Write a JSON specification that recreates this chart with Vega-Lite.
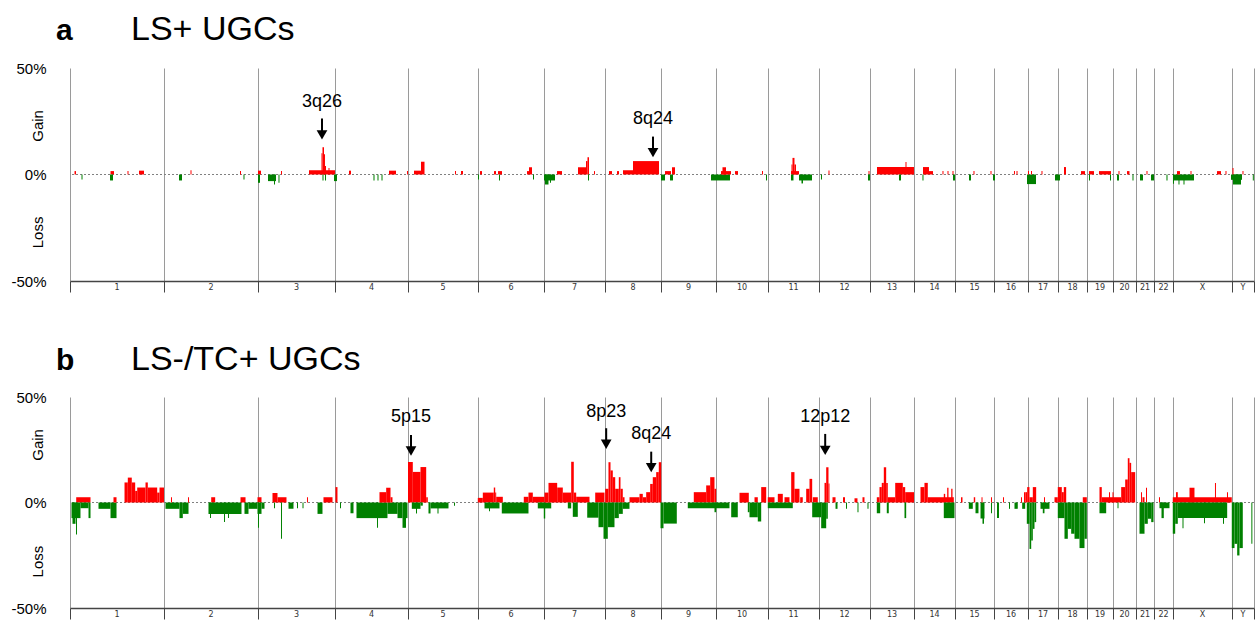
{
"$schema": "https://vega.github.io/schema/vega-lite/v6.json",
"background": "white",
"padding": {"left": 10, "top": 13, "right": 0, "bottom": 0},
"spacing": 50,
"config": {"view": {"stroke": null}, "font": "Liberation Sans"},
"datasets": {
"chr": [
{"n":"1","m":122.85},{"n":"2","m":368.55},{"n":"3","m":592.05},{"n":"4","m":788.1},{"n":"5","m":975},{"n":"6","m":1152.75},{"n":"7","m":1318.75},{"n":"8","m":1471.7},{"n":"9","m":1616.75},{"n":"10","m":1756.6},{"n":"11","m":1891.25},{"n":"12","m":2024.55},{"n":"13","m":2148.7},{"n":"14","m":2259.8},{"n":"15","m":2364.35},{"n":"16","m":2459.75},{"n":"17","m":2543.4},{"n":"18","m":2620.5},{"n":"19","m":2692.4},{"n":"20","m":2756.45},{"n":"21","m":2810.05},{"n":"22","m":2858.4},{"n":"X","m":2960.35},{"n":"Y","m":3066.25}
],
"a": [
{"s":11.8,"e":15.7,"v":1.6},{"s":30.1,"e":32.7,"v":-2.3},{"s":105.9,"e":115.0,"v":1.6},{"s":104.6,"e":112.4,"v":-2.8},{"s":150.3,"e":152.9,"v":1.6},{"s":180.4,"e":193.4,"v":1.8},
{"s":284.9,"e":292.8,"v":-2.8},{"s":315.0,"e":317.6,"v":2.0},{"s":444.4,"e":447.0,"v":1.6},{"s":453.5,"e":456.1,"v":-2.3},
{"s":491.4,"e":499.3,"v":1.8},{"s":491.4,"e":496.7,"v":-3.9},{"s":517.6,"e":538.5,"v":-3.1},{"s":533.3,"e":535.9,"v":-4.7},{"s":545.0,"e":547.6,"v":-3.9},{"s":551.6,"e":554.2,"v":1.6},
{"s":624.7,"e":692.7,"v":2.0},{"s":657.4,"e":660.0,"v":10.0},{"s":660.0,"e":664.0,"v":12.8},{"s":664.0,"e":666.6,"v":9.5},{"s":666.6,"e":669.2,"v":4.0},{"s":675.7,"e":678.3,"v":3.1},
{"s":660.0,"e":662.7,"v":-2.8},{"s":666.6,"e":669.2,"v":-2.8},{"s":690.1,"e":697.9,"v":-3.1},
{"s":729.3,"e":734.5,"v":1.8},{"s":793.3,"e":796.0,"v":-2.8},{"s":803.8,"e":806.4,"v":-2.8},{"s":814.3,"e":816.9,"v":-2.8},{"s":833.9,"e":852.2,"v":1.8},
{"s":880.9,"e":883.5,"v":1.6},{"s":899.2,"e":917.5,"v":1.8},{"s":917.5,"e":926.7,"v":6.0},{"s":1006.4,"e":1009.0,"v":1.6},{"s":1022.1,"e":1027.3,"v":1.6},
{"s":1066.5,"e":1069.1,"v":-2.3},{"s":1071.7,"e":1077.0,"v":1.6},{"s":1108.3,"e":1113.6,"v":1.6},{"s":1118.8,"e":1129.2,"v":1.6},{"s":1121.4,"e":1124.0,"v":-2.8},{"s":1194.6,"e":1199.8,"v":1.6},{"s":1199.8,"e":1207.7,"v":3.4},{"s":1210.3,"e":1212.9,"v":-2.3},
{"s":1239.0,"e":1267.8,"v":-2.8},{"s":1241.7,"e":1250.8,"v":-4.7},{"s":1254.7,"e":1257.3,"v":-3.9},{"s":1273.0,"e":1286.1,"v":1.6},{"s":1327.9,"e":1348.8,"v":3.4},{"s":1348.8,"e":1352.7,"v":6.3},{"s":1352.7,"e":1356.7,"v":8.1},{"s":1354.1,"e":1356.7,"v":-2.8},{"s":1369.7,"e":1372.4,"v":1.6},
{"s":1408.9,"e":1416.8,"v":1.6},{"s":1429.9,"e":1435.1,"v":1.6},{"s":1445.5,"e":1471.7,"v":2.0},{"s":1471.7,"e":1539.6,"v":6.3},
{"s":1544.9,"e":1555.3,"v":-2.8},{"s":1555.3,"e":1571.0,"v":1.6},{"s":1573.6,"e":1581.5,"v":3.4},{"s":1568.4,"e":1576.2,"v":-2.8},
{"s":1675.6,"e":1725.2,"v":-2.8},{"s":1701.7,"e":1727.9,"v":1.6},{"s":1705.6,"e":1714.8,"v":3.4},{"s":1738.3,"e":1746.2,"v":1.6},{"s":1808.9,"e":1811.5,"v":1.6},{"s":1819.3,"e":1822.0,"v":-2.8},
{"s":1884.7,"e":1905.6,"v":1.6},{"s":1886.0,"e":1888.6,"v":4.7},{"s":1888.6,"e":1893.8,"v":7.8},{"s":1893.8,"e":1897.8,"v":4.7},{"s":1884.7,"e":1891.2,"v":-2.8},{"s":1905.6,"e":1939.6,"v":-2.8},{"s":1912.1,"e":1916.1,"v":-4.2},
{"s":1963.1,"e":1965.7,"v":-2.3},{"s":1982.7,"e":1985.3,"v":1.9},{"s":2087.3,"e":2089.9,"v":1.6},{"s":2086.0,"e":2091.2,"v":-2.8},
{"s":2109.5,"e":2206.2,"v":3.5},{"s":2184.0,"e":2186.6,"v":5.9},{"s":2167.0,"e":2172.2,"v":-2.8},
{"s":2229.7,"e":2245.4,"v":3.5},{"s":2245.4,"e":2255.9,"v":1.6},{"s":2228.4,"e":2231.0,"v":-2.8},{"s":2280.7,"e":2283.3,"v":1.6},{"s":2293.8,"e":2296.4,"v":1.6},{"s":2306.9,"e":2309.5,"v":1.6},
{"s":2308.2,"e":2313.4,"v":-2.8},{"s":2350.0,"e":2355.2,"v":-2.8},{"s":2361.7,"e":2364.4,"v":1.6},{"s":2406.2,"e":2408.8,"v":1.6},
{"s":2412.7,"e":2417.9,"v":-2.8},{"s":2467.6,"e":2470.2,"v":1.6},{"s":2474.2,"e":2476.8,"v":1.6},
{"s":2501.6,"e":2525.1,"v":-4.5},{"s":2504.2,"e":2506.8,"v":1.6},{"s":2512.1,"e":2514.7,"v":1.6},{"s":2539.5,"e":2542.1,"v":1.6},
{"s":2574.8,"e":2587.9,"v":-2.8},{"s":2598.3,"e":2603.5,"v":3.5},{"s":2642.8,"e":2653.2,"v":1.6},
{"s":2663.7,"e":2676.7,"v":1.6},{"s":2663.7,"e":2666.3,"v":-2.8},{"s":2689.8,"e":2721.2,"v":1.6},{"s":2718.6,"e":2721.2,"v":-2.8},
{"s":2736.9,"e":2742.1,"v":-2.8},{"s":2740.8,"e":2743.4,"v":1.6},{"s":2763.0,"e":2769.5,"v":1.6},{"s":2777.4,"e":2780.0,"v":-2.8},
{"s":2797.0,"e":2804.8,"v":-2.8},{"s":2814.0,"e":2816.6,"v":1.6},{"s":2825.7,"e":2833.6,"v":-2.8},
{"s":2866.2,"e":2868.9,"v":-2.8},{"s":2883.2,"e":2938.1,"v":-2.8},{"s":2883.2,"e":2885.8,"v":-4.4},{"s":2897.6,"e":2900.2,"v":-4.7},{"s":2910.7,"e":2913.3,"v":-4.7},{"s":2893.7,"e":2901.5,"v":1.6},{"s":2929.0,"e":2931.6,"v":1.6},{"s":2998.3,"e":3008.7,"v":1.6},{"s":3020.5,"e":3023.1,"v":1.6},
{"s":3034.9,"e":3063.6,"v":-2.5},{"s":3040.1,"e":3061.0,"v":-4.7},{"s":3038.8,"e":3041.4,"v":3.1},{"s":3064.9,"e":3067.5,"v":1.6},{"s":3091.9,"e":3094.5,"v":-2.8}
],
"b": [
{"s":16.2,"e":53.6,"v":2.5},{"s":3.9,"e":27.4,"v":-7.4},{"s":6.5,"e":14.4,"v":-10.1},{"s":15.7,"e":18.3,"v":-15.2},{"s":27.4,"e":48.4,"v":-2.7},{"s":48.4,"e":53.6,"v":-7.4},{"s":74.5,"e":105.9,"v":-3.0},{"s":105.9,"e":121.6,"v":-7.4},{"s":113.7,"e":121.6,"v":2.5},
{"s":142.5,"e":151.1,"v":9.5},{"s":151.1,"e":161.5,"v":11.8},{"s":161.5,"e":170.4,"v":9.5},{"s":170.4,"e":175.7,"v":5.5},{"s":175.7,"e":197.4,"v":7.1},{"s":197.4,"e":203.4,"v":9.5},{"s":203.4,"e":227.9,"v":7.1},{"s":227.9,"e":234.0,"v":4.7},{"s":234.0,"e":245.7,"v":7.1},
{"s":249.6,"e":286.2,"v":-3.0},{"s":286.2,"e":294.9,"v":-7.4},{"s":294.9,"e":309.8,"v":-5.4},{"s":264.0,"e":266.6,"v":2.5},{"s":308.5,"e":311.1,"v":2.5},{"s":369.1,"e":379.5,"v":2.5},{"s":362.0,"e":448.3,"v":-5.4},{"s":366.0,"e":368.6,"v":-7.4},{"s":402.6,"e":405.2,"v":-9.3},{"s":413.0,"e":415.6,"v":-7.4},
{"s":445.7,"e":458.8,"v":2.5},{"s":490.1,"e":500.6,"v":2.5},{"s":456.1,"e":466.6,"v":-5.4},{"s":466.6,"e":490.1,"v":-3.0},{"s":490.1,"e":500.6,"v":-5.4},{"s":491.4,"e":494.0,"v":-12.0},
{"s":500.6,"e":508.4,"v":-3.0},{"s":529.3,"e":542.4,"v":4.5},{"s":542.4,"e":565.9,"v":2.5},{"s":533.3,"e":535.9,"v":-2.7},{"s":551.6,"e":554.2,"v":-17.2},{"s":571.2,"e":584.2,"v":-3.0},{"s":593.4,"e":596.0,"v":-2.7},{"s":607.8,"e":610.4,"v":-2.7},{"s":619.5,"e":622.1,"v":2.5},{"s":647.0,"e":660.0,"v":-5.4},{"s":662.6,"e":686.2,"v":2.5},{"s":694.0,"e":699.2,"v":7.3},{"s":705.8,"e":708.4,"v":-2.7},
{"s":733.2,"e":741.1,"v":-5.1},{"s":748.9,"e":829.9,"v":-7.4},{"s":802.5,"e":805.1,"v":-12.0},{"s":829.9,"e":856.1,"v":-5.4},{"s":856.1,"e":869.2,"v":-7.4},{"s":869.2,"e":878.3,"v":-12.0},{"s":878.3,"e":882.2,"v":-7.4},{"s":809.0,"e":826.5,"v":4.9},{"s":826.5,"e":837.8,"v":7.0},{"s":837.8,"e":843.0,"v":2.5},
{"s":883.5,"e":896.1,"v":19.2},{"s":896.1,"e":916.2,"v":14.5},{"s":916.2,"e":931.1,"v":16.8},{"s":931.1,"e":935.3,"v":2.5},{"s":893.5,"e":916.2,"v":-3.0},{"s":904.4,"e":907.1,"v":-5.2},{"s":916.2,"e":922.2,"v":-1.5},{"s":937.1,"e":942.4,"v":-5.2},{"s":942.4,"e":989.4,"v":-2.8},{"s":960.6,"e":963.3,"v":-5.2},{"s":1003.8,"e":1006.4,"v":-1.5},
{"s":1066.0,"e":1079.1,"v":2.2},{"s":1079.1,"e":1107.8,"v":4.7},{"s":1107.8,"e":1111.5,"v":7.1},{"s":1111.5,"e":1114.1,"v":4.7},{"s":1114.1,"e":1131.4,"v":2.7},{"s":1083.5,"e":1122.7,"v":-2.8},{"s":1095.3,"e":1097.9,"v":-4.1},{"s":1128.7,"e":1198.5,"v":-5.2},{"s":1186.2,"e":1198.5,"v":2.7},{"s":1198.5,"e":1209.8,"v":4.7},{"s":1209.8,"e":1240.4,"v":2.7},{"s":1222.8,"e":1257.9,"v":-2.8},{"s":1238.5,"e":1242.2,"v":-7.6},
{"s":1240.4,"e":1250.8,"v":4.7},{"s":1250.8,"e":1273.5,"v":9.3},{"s":1273.5,"e":1288.2,"v":7.1},{"s":1288.2,"e":1310.1,"v":4.7},{"s":1310.1,"e":1316.9,"v":19.3},{"s":1316.9,"e":1323.2,"v":4.7},{"s":1323.2,"e":1358.0,"v":2.7},{"s":1372.9,"e":1397.2,"v":4.7},{"s":1301.3,"e":1310.1,"v":-2.8},{"s":1314.3,"e":1327.4,"v":-6.8},{"s":1352.0,"e":1381.5,"v":-7.2},{"s":1381.5,"e":1394.6,"v":-11.7},{"s":1394.6,"e":1405.8,"v":-17.2},
{"s":1399.0,"e":1407.6,"v":6.5},{"s":1407.6,"e":1412.9,"v":19.1},{"s":1412.9,"e":1418.9,"v":15.2},{"s":1418.9,"e":1425.2,"v":12.0},{"s":1425.2,"e":1434.6,"v":6.5},{"s":1434.6,"e":1439.0,"v":12.0},{"s":1439.0,"e":1445.0,"v":6.5},{"s":1445.0,"e":1449.5,"v":2.5},{"s":1462.5,"e":1488.7,"v":2.5},{"s":1488.7,"e":1497.3,"v":4.1},{"s":1497.3,"e":1506.2,"v":2.5},{"s":1506.2,"e":1516.6,"v":4.9},{"s":1516.6,"e":1523.4,"v":8.8},{"s":1523.4,"e":1532.3,"v":12.0},{"s":1532.3,"e":1539.1,"v":14.4},{"s":1539.1,"e":1545.4,"v":19.1},
{"s":1405.8,"e":1423.3,"v":-11.7},{"s":1423.3,"e":1434.6,"v":-7.4},{"s":1434.6,"e":1445.0,"v":-5.4},{"s":1445.0,"e":1462.5,"v":-3.0},
{"s":1543.6,"e":1551.4,"v":-12.2},{"s":1551.4,"e":1586.2,"v":-10.0},{"s":1630.6,"e":1663.0,"v":4.9},{"s":1663.0,"e":1673.5,"v":8.1},{"s":1673.5,"e":1684.7,"v":12.0},{"s":1684.7,"e":1689.2,"v":6.5},{"s":1614.9,"e":1723.9,"v":-2.7},{"s":1684.7,"e":1689.2,"v":-4.6},
{"s":1728.4,"e":1745.6,"v":-7.0},{"s":1750.1,"e":1774.4,"v":4.6},{"s":1789.3,"e":1797.9,"v":2.5},{"s":1806.8,"e":1819.9,"v":7.3},{"s":1771.8,"e":1776.2,"v":-4.6},{"s":1776.2,"e":1797.9,"v":-7.0},{"s":1797.9,"e":1806.8,"v":-9.0},
{"s":1824.0,"e":1841.6,"v":2.5},{"s":1850.2,"e":1863.3,"v":4.1},{"s":1867.7,"e":1880.8,"v":2.5},{"s":1885.2,"e":1893.8,"v":14.4},{"s":1893.8,"e":1906.9,"v":6.5},{"s":1908.7,"e":1915.5,"v":2.5},{"s":1924.4,"e":1933.1,"v":6.5},{"s":1933.1,"e":1940.1,"v":11.2},{"s":1941.7,"e":1954.7,"v":2.5},{"s":1824.0,"e":1889.4,"v":-2.7},{"s":1940.1,"e":1963.6,"v":-7.0},{"s":1963.6,"e":1976.7,"v":-12.2},
{"s":1972.3,"e":1976.7,"v":9.3},{"s":1976.7,"e":1982.7,"v":16.7},{"s":1982.7,"e":1985.3,"v":9.0},{"s":1976.7,"e":1980.9,"v":-7.7},{"s":1993.2,"e":2001.1,"v":2.5},{"s":2001.1,"e":2006.3,"v":-3.0},{"s":2020.6,"e":2025.9,"v":2.5},{"s":2028.5,"e":2031.1,"v":-3.0},{"s":2050.7,"e":2058.5,"v":2.0},{"s":2058.5,"e":2061.1,"v":-4.6},{"s":2071.6,"e":2076.8,"v":2.5},{"s":2084.6,"e":2087.3,"v":-3.0},
{"s":2109.0,"e":2116.0,"v":2.5},{"s":2116.0,"e":2122.0,"v":7.3},{"s":2122.0,"e":2127.3,"v":9.3},{"s":2127.3,"e":2133.5,"v":16.7},{"s":2133.5,"e":2137.7,"v":9.3},{"s":2137.7,"e":2157.1,"v":2.5},{"s":2157.1,"e":2177.0,"v":9.3},{"s":2177.0,"e":2183.2,"v":7.3},{"s":2183.2,"e":2206.2,"v":4.9},{"s":2109.0,"e":2117.9,"v":-5.1},{"s":2135.1,"e":2140.3,"v":-5.1},{"s":2181.4,"e":2185.8,"v":-7.4},
{"s":2223.2,"e":2233.6,"v":7.3},{"s":2233.6,"e":2242.3,"v":9.3},{"s":2242.3,"e":2310.3,"v":2.5},{"s":2284.1,"e":2287.8,"v":4.1},{"s":2293.0,"e":2296.4,"v":7.0},{"s":2303.5,"e":2306.9,"v":6.5},{"s":2284.1,"e":2312.1,"v":-7.4},
{"s":2329.1,"e":2333.0,"v":2.5},{"s":2349.5,"e":2359.9,"v":-3.0},{"s":2362.5,"e":2366.2,"v":2.5},{"s":2367.0,"e":2374.8,"v":-5.1},{"s":2380.1,"e":2390.5,"v":-7.6},{"s":2385.3,"e":2389.2,"v":-10.1},{"s":2382.7,"e":2385.3,"v":2.5},{"s":2407.5,"e":2410.1,"v":-5.1},{"s":2407.5,"e":2410.1,"v":2.5},
{"s":2423.2,"e":2428.4,"v":-7.4},{"s":2438.9,"e":2441.5,"v":2.5},{"s":2454.5,"e":2457.2,"v":-3.0},{"s":2468.9,"e":2477.5,"v":-3.0},{"s":2485.9,"e":2488.5,"v":2.5},{"s":2489.0,"e":2496.9,"v":-3.0},{"s":2493.8,"e":2497.7,"v":4.9},
{"s":2497.7,"e":2502.1,"v":4.9},{"s":2502.1,"e":2508.1,"v":7.3},{"s":2508.1,"e":2516.8,"v":2.5},{"s":2516.8,"e":2525.6,"v":7.3},{"s":2501.1,"e":2508.1,"v":-10.1},{"s":2508.1,"e":2512.6,"v":-22.0},{"s":2512.6,"e":2516.8,"v":-18.0},{"s":2516.8,"e":2521.2,"v":-12.5},{"s":2521.2,"e":2525.6,"v":-9.3},{"s":2546.0,"e":2548.7,"v":2.5},{"s":2536.9,"e":2560.4,"v":-3.0},{"s":2542.9,"e":2547.3,"v":-5.1},
{"s":2573.5,"e":2582.1,"v":2.5},{"s":2582.1,"e":2592.6,"v":7.3},{"s":2592.6,"e":2597.8,"v":4.9},{"s":2597.8,"e":2604.1,"v":7.3},{"s":2582.1,"e":2599.6,"v":-7.4},{"s":2599.6,"e":2608.3,"v":-17.2},{"s":2608.3,"e":2617.1,"v":-12.5},{"s":2617.1,"e":2625.8,"v":-14.8},{"s":2625.8,"e":2638.9,"v":-17.2},{"s":2638.9,"e":2651.9,"v":-21.6},{"s":2651.9,"e":2658.0,"v":-17.2},{"s":2647.4,"e":2658.0,"v":2.5},
{"s":2691.1,"e":2697.1,"v":7.3},{"s":2697.1,"e":2747.8,"v":2.5},{"s":2716.0,"e":2718.6,"v":4.9},{"s":2725.1,"e":2727.7,"v":4.9},{"s":2691.1,"e":2708.6,"v":-5.1},{"s":2738.2,"e":2740.8,"v":-2.7},
{"s":2747.8,"e":2758.3,"v":7.3},{"s":2758.3,"e":2765.1,"v":10.9},{"s":2765.1,"e":2769.5,"v":21.0},{"s":2769.5,"e":2773.9,"v":18.8},{"s":2773.9,"e":2784.4,"v":14.4},
{"s":2799.6,"e":2802.2,"v":4.9},{"s":2803.5,"e":2808.8,"v":2.5},{"s":2812.7,"e":2815.3,"v":7.0},{"s":2795.7,"e":2808.8,"v":-14.8},{"s":2808.8,"e":2817.4,"v":-10.1},{"s":2817.4,"e":2826.3,"v":-7.7},{"s":2826.3,"e":2832.3,"v":-9.3},
{"s":2846.6,"e":2849.3,"v":2.5},{"s":2847.9,"e":2874.1,"v":-2.7},{"s":2853.2,"e":2859.2,"v":-7.4},
{"s":2882.7,"e":3036.9,"v":2.5},{"s":2891.1,"e":2895.8,"v":4.9},{"s":2926.4,"e":2939.4,"v":7.0},{"s":2993.0,"e":2995.6,"v":9.3},{"s":3024.4,"e":3027.0,"v":4.9},{"s":2882.7,"e":2889.0,"v":-14.8},{"s":2889.0,"e":2895.8,"v":-10.1},{"s":2895.8,"e":3024.9,"v":-7.4},{"s":2908.1,"e":2910.7,"v":-12.2},{"s":2964.3,"e":2966.9,"v":-9.8},{"s":3013.9,"e":3016.6,"v":-10.1},
{"s":3036.9,"e":3044.0,"v":-21.6},{"s":3044.0,"e":3051.0,"v":-19.6},{"s":3051.0,"e":3057.0,"v":-25.1},{"s":3057.0,"e":3065.7,"v":-21.6},{"s":3088.1,"e":3090.7,"v":-19.6}
],
"arrA": [
{"label":"3q26","x":658.7,"ly":33.9,"tail":26.3,"head":18.6},
{"label":"8q24","x":1524,"ly":26.2,"tail":17.8,"head":10.3}
],
"arrB": [
{"label":"5p15","x":891.4,"ly":40.5,"tail":32.0,"head":24.4},
{"label":"8p23","x":1401.6,"ly":43.1,"tail":35.2,"head":27.6},
{"label":"8q24","x":1519.3,"ly":32.5,"tail":24.1,"head":16.5},
{"label":"12p12","x":1974.1,"ly":40.5,"tail":32.5,"head":24.7}
]
},
"vconcat": [
{
"width": 1184, "height": 213,
"layer": [
{"data": {"values": [{}]}, "mark": {"type": "rule", "color": "#808080", "strokeDash": [2, 2], "strokeWidth": 1}, "encoding": {"y": {"datum": 0, "type": "quantitative"}}},
{"data": {"name": "a"}, "mark": {"type": "rect"}, "encoding": {
"x": {"field": "s", "type": "quantitative", "scale": {"domain": [0, 3095], "nice": false, "zero": false}, "axis": {"values": [0,245.7,491.4,692.7,883.5,1066.5,1239,1398.5,1544.9,1688.6,1824.6,1957.9,2091.2,2206.2,2313.4,2415.3,2504.2,2582.6,2658.4,2726.4,2786.5,2833.6,2883.2,3037.5,3095], "title": null, "grid": true, "gridColor": "#9a9a9a", "gridWidth": 1, "ticks": true, "tickSize": 11, "tickColor": "#444444", "tickWidth": 1, "domain": true, "domainColor": "#444444", "domainWidth": 1.5, "labels": false}},
"x2": {"field": "e"},
"y": {"field": "v", "type": "quantitative", "scale": {"domain": [-50, 50], "nice": false}, "axis": {"values": [-50, 0, 50], "title": null, "grid": false, "ticks": false, "domain": false, "labelExpr": "datum.value + '%'", "labelFontSize": 15, "labelColor": "#000000", "labelPadding": 24, "labelFont": "Liberation Sans", "labelFlush": false}},
"y2": {"datum": 0},
"color": {"condition": {"test": "datum.v > 0", "value": "#ff0000"}, "value": "#008000"}}},
{"data": {"name": "chr"}, "mark": {"type": "text", "font": "DejaVu Sans", "fontSize": 8, "color": "#333333", "baseline": "middle", "align": "center", "dy": 7}, "encoding": {"x": {"field": "m", "type": "quantitative"}, "y": {"datum": -50, "type": "quantitative"}, "text": {"field": "n"}}},
{"data": {"name": "arrA"}, "mark": {"type": "rule", "color": "#000000", "strokeWidth": 2}, "encoding": {"x": {"field": "x", "type": "quantitative"}, "y": {"field": "tail", "type": "quantitative"}, "y2": {"field": "head"}}},
{"data": {"name": "arrA"}, "mark": {"type": "point", "shape": "triangle-down", "filled": true, "color": "#000000", "size": 115, "opacity": 1, "strokeWidth": 0}, "encoding": {"x": {"field": "x", "type": "quantitative"}, "y": {"field": "head", "type": "quantitative"}}},
{"data": {"name": "arrA"}, "mark": {"type": "text", "fontSize": 18, "color": "#000000", "baseline": "middle", "align": "center"}, "encoding": {"x": {"field": "x", "type": "quantitative"}, "y": {"field": "ly", "type": "quantitative"}, "text": {"field": "label"}}},
{"data": {"values": [{}]}, "mark": {"type": "text", "fontSize": 30, "fontWeight": "bold", "align": "left", "baseline": "alphabetic", "dx": -14, "dy": -28, "color": "#000000"}, "encoding": {"x": {"datum": 0, "type": "quantitative"}, "y": {"datum": 50, "type": "quantitative"}, "text": {"value": "a"}}},
{"data": {"values": [{}]}, "mark": {"type": "text", "fontSize": 34, "align": "left", "baseline": "alphabetic", "dx": 61, "dy": -28, "color": "#000000"}, "encoding": {"x": {"datum": 0, "type": "quantitative"}, "y": {"datum": 50, "type": "quantitative"}, "text": {"value": "LS+ UGCs"}}},
{"data": {"values": [{}]}, "mark": {"type": "text", "fontSize": 15, "angle": 270, "align": "center", "baseline": "middle", "dy": -32, "color": "#000000"}, "encoding": {"x": {"datum": 0, "type": "quantitative"}, "y": {"datum": 22.8, "type": "quantitative"}, "text": {"value": "Gain"}}},
{"data": {"values": [{}]}, "mark": {"type": "text", "fontSize": 15, "angle": 270, "align": "center", "baseline": "middle", "dy": -32, "color": "#000000"}, "encoding": {"x": {"datum": 0, "type": "quantitative"}, "y": {"datum": -27.2, "type": "quantitative"}, "text": {"value": "Loss"}}}
]
},
{
"width": 1184, "height": 211,
"layer": [
{"data": {"values": [{}]}, "mark": {"type": "rule", "color": "#808080", "strokeDash": [2, 2], "strokeWidth": 1}, "encoding": {"y": {"datum": 0, "type": "quantitative"}}},
{"data": {"name": "b"}, "mark": {"type": "rect"}, "encoding": {
"x": {"field": "s", "type": "quantitative", "scale": {"domain": [0, 3095], "nice": false, "zero": false}, "axis": {"values": [0,245.7,491.4,692.7,883.5,1066.5,1239,1398.5,1544.9,1688.6,1824.6,1957.9,2091.2,2206.2,2313.4,2415.3,2504.2,2582.6,2658.4,2726.4,2786.5,2833.6,2883.2,3037.5,3095], "title": null, "grid": true, "gridColor": "#9a9a9a", "gridWidth": 1, "ticks": true, "tickSize": 11, "tickColor": "#444444", "tickWidth": 1, "domain": true, "domainColor": "#444444", "domainWidth": 1.5, "labels": false}},
"x2": {"field": "e"},
"y": {"field": "v", "type": "quantitative", "scale": {"domain": [-50, 50], "nice": false}, "axis": {"values": [-50, 0, 50], "title": null, "grid": false, "ticks": false, "domain": false, "labelExpr": "datum.value + '%'", "labelFontSize": 15, "labelColor": "#000000", "labelPadding": 24, "labelFont": "Liberation Sans", "labelFlush": false}},
"y2": {"datum": 0},
"color": {"condition": {"test": "datum.v > 0", "value": "#ff0000"}, "value": "#008000"}}},
{"data": {"name": "chr"}, "mark": {"type": "text", "font": "DejaVu Sans", "fontSize": 8, "color": "#333333", "baseline": "middle", "align": "center", "dy": 7}, "encoding": {"x": {"field": "m", "type": "quantitative"}, "y": {"datum": -50, "type": "quantitative"}, "text": {"field": "n"}}},
{"data": {"name": "arrB"}, "mark": {"type": "rule", "color": "#000000", "strokeWidth": 2}, "encoding": {"x": {"field": "x", "type": "quantitative"}, "y": {"field": "tail", "type": "quantitative"}, "y2": {"field": "head"}}},
{"data": {"name": "arrB"}, "mark": {"type": "point", "shape": "triangle-down", "filled": true, "color": "#000000", "size": 115, "opacity": 1, "strokeWidth": 0}, "encoding": {"x": {"field": "x", "type": "quantitative"}, "y": {"field": "head", "type": "quantitative"}}},
{"data": {"name": "arrB"}, "mark": {"type": "text", "fontSize": 18, "color": "#000000", "baseline": "middle", "align": "center"}, "encoding": {"x": {"field": "x", "type": "quantitative"}, "y": {"field": "ly", "type": "quantitative"}, "text": {"field": "label"}}},
{"data": {"values": [{}]}, "mark": {"type": "text", "fontSize": 30, "fontWeight": "bold", "align": "left", "baseline": "alphabetic", "dx": -14, "dy": -27, "color": "#000000"}, "encoding": {"x": {"datum": 0, "type": "quantitative"}, "y": {"datum": 50, "type": "quantitative"}, "text": {"value": "b"}}},
{"data": {"values": [{}]}, "mark": {"type": "text", "fontSize": 34, "align": "left", "baseline": "alphabetic", "dx": 61, "dy": -27, "color": "#000000"}, "encoding": {"x": {"datum": 0, "type": "quantitative"}, "y": {"datum": 50, "type": "quantitative"}, "text": {"value": "LS-/TC+ UGCs"}}},
{"data": {"values": [{}]}, "mark": {"type": "text", "fontSize": 15, "angle": 270, "align": "center", "baseline": "middle", "dy": -32, "color": "#000000"}, "encoding": {"x": {"datum": 0, "type": "quantitative"}, "y": {"datum": 27.3, "type": "quantitative"}, "text": {"value": "Gain"}}},
{"data": {"values": [{}]}, "mark": {"type": "text", "fontSize": 15, "angle": 270, "align": "center", "baseline": "middle", "dy": -32, "color": "#000000"}, "encoding": {"x": {"datum": 0, "type": "quantitative"}, "y": {"datum": -28, "type": "quantitative"}, "text": {"value": "Loss"}}}
]
}
]
}
